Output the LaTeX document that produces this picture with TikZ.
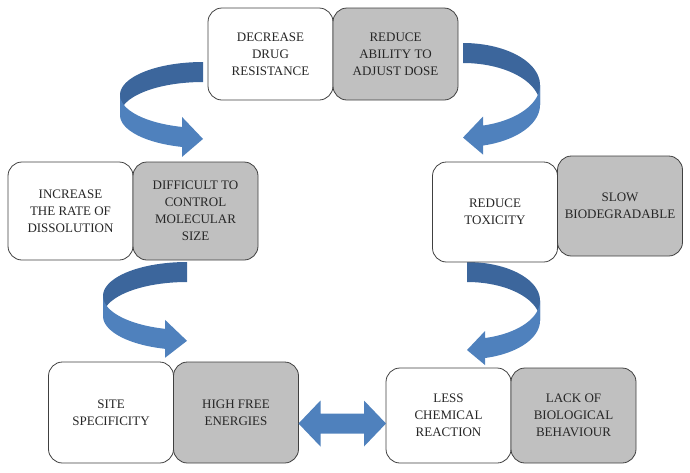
\documentclass[tikz,border=0pt]{standalone}
\usepackage{fontspec}
\setmainfont{Liberation Serif}
\usetikzlibrary{positioning, calc}
\definecolor{ribbondark}{RGB}{60,102,156}
\definecolor{ribbonlight}{RGB}{79,129,189}
\definecolor{boxgray}{RGB}{192,192,192}
\definecolor{boxline}{RGB}{64,64,64}
\definecolor{boxtext}{RGB}{38,38,38}

% curved ribbon arrow: side (1 = bends left, -1 = bends right), start x, top, x radius, y radius, head length, head overhang
\newcommand{\ribbonarrow}[7]{%
  \pgfmathsetmacro{\rya}{#3+#5}
  \pgfmathsetmacro{\ryb}{#3+#5+20}
  \pgfmathsetmacro{\rtb}{acos(-#6/#4)}
  \pgfmathsetmacro{\rbase}{\rya+#5*sin(\rtb)}
  \fill[ribbondark] plot[domain=270:180, samples=30, variable=\q] ({#2+(#1)*#4*cos(\q)}, {\rya+#5*sin(\q)})
    -- plot[domain=180:270, samples=30, variable=\q] ({#2+(#1)*#4*cos(\q)}, {\ryb+#5*sin(\q)}) -- cycle;
  \fill[ribbonlight] plot[domain=180:\rtb, samples=30, variable=\q] ({#2+(#1)*#4*cos(\q)}, {\rya+#5*sin(\q)})
    -- ({#2-(#1)*#6}, {\rbase-#7}) -- (#2, {\rbase+12}) -- ({#2-(#1)*#6}, {\rbase+20+#7})
    -- plot[domain=\rtb:180, samples=30, variable=\q] ({#2+(#1)*#4*cos(\q)}, {\ryb+#5*sin(\q)}) -- cycle;
}

\begin{document}
\begin{tikzpicture}[x=1pt, y=-1pt, node distance=0pt,
    box/.style={draw=boxline, line width=0.8pt, rounded corners=14pt, fill=white, text=boxtext,
      outer sep=0pt, minimum width=125pt, align=center, font=\fontsize{13}{17}\selectfont},
    grey box/.style={box, fill=boxgray}]
    \useasboundingbox (0,0) rectangle (690,472);

    % curved arrows
    \ribbonarrow{1}{203}{62}{83}{33}{21}{10}
    \ribbonarrow{-1}{463}{43}{77}{42}{20}{9}
    \ribbonarrow{1}{187}{262}{84}{34}{22}{9}
    \ribbonarrow{-1}{467}{262}{73}{38.6}{18}{7}

    \node[box, minimum height=92pt] (dec) at (270.5,54) {DECREASE\\DRUG\\RESISTANCE};
    \node[grey box, minimum height=92pt, right=of dec] (rad) {REDUCE\\ABILITY TO\\ADJUST DOSE};

    \node[box, minimum height=98pt] (inc) at (70.5,211) {INCREASE\\THE RATE OF\\DISSOLUTION};
    \node[grey box, minimum height=98pt, right=of inc] (dif) {DIFFICULT TO\\CONTROL\\MOLECULAR\\SIZE};

    \node[box, minimum height=100pt] (red) at (495,212) {REDUCE\\TOXICITY};
    \node[grey box, minimum height=100pt, right=of red, yshift=6pt] (slow) {SLOW\\BIODEGRADABLE};

    \node[box, minimum height=101pt] (site) at (111,412.5) {SITE\\SPECIFICITY};
    \node[grey box, minimum height=101pt, right=of site] (hfe) {HIGH FREE\\ENERGIES};

    \node[box, minimum height=95pt] (lcr) at (448.5,415.5) {LESS\\CHEMICAL\\REACTION};
    \node[grey box, minimum height=95pt, right=of lcr] (lack) {LACK OF\\BIOLOGICAL\\BEHAVIOUR};

    % double arrow between the bottom pairs
    \coordinate (dl) at ([yshift=-11pt]hfe.east);
    \coordinate (dr) at (lcr.west |- dl);
    \fill[ribbonlight] (dl) -- ($(dl)+(22,-23)$) -- ($(dl)+(22,-10)$) -- ($(dr)+(-22,-10)$)
      -- ($(dr)+(-22,-23)$) -- (dr) -- ($(dr)+(-22,23)$) -- ($(dr)+(-22,10)$)
      -- ($(dl)+(22,10)$) -- ($(dl)+(22,23)$) -- cycle;
\end{tikzpicture}
\end{document}
